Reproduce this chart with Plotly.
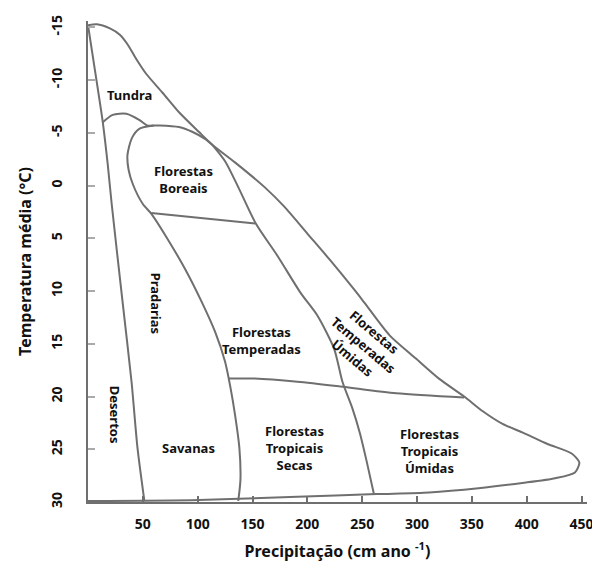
import plotly.graph_objects as go

# Boundary curves of the biomes (precipitation cm/yr, temperature °C)
outer_p = [0, 8, 20, 29, 36, 44, 53, 68, 83, 101, 113, 134, 161, 179, 200, 221, 243, 252, 275, 299, 320, 343, 360, 378, 396, 419, 441, 448, 444, 426, 396, 356, 311, 263, 191, 101, 0]
outer_t = [-15.2, -15.3, -14.9, -14.3, -13.4, -12.0, -10.6, -8.8, -6.95, -5.1, -3.9, -2.2, 0.15, 2.0, 4.55, 7.1, 9.9, 11.1, 14.2, 16.4, 18.3, 20.0, 21.4, 22.6, 23.4, 24.5, 25.4, 26.25, 27.2, 27.75, 28.2, 28.7, 29.1, 29.25, 29.5, 29.8, 29.9]

tundra_p = [13.5, 22.5, 35, 47, 54, 65, 83, 95, 107, 113]
tundra_t = [-6.0, -6.7, -6.8, -6.2, -5.7, -5.7, -5.55, -5.1, -4.4, -3.9]

desert_p = [0, 8, 13.5, 18, 21.6, 31.6, 39.7, 45.1, 51.4]
desert_t = [-15.2, -9.8, -6.0, -2.0, 1.75, 11.1, 18.6, 24.85, 29.9]

grass_p = [60, 47, 40, 36, 37, 41, 50, 58, 71, 89, 104, 116, 125, 130, 134, 138, 139, 137]
grass_t = [-5.7, -5.4, -4.5, -2.9, -1.5, -0.1, 1.75, 2.7, 4.8, 8.0, 11.1, 13.9, 16.7, 19.2, 21.7, 24.85, 27.9, 29.9]

boreal_p = [57.7, 152.4]
boreal_t = [2.6, 3.6]

temp_p = [113, 125, 137, 153, 173, 194, 209, 224.5, 232, 241, 248, 254, 260.6]
temp_t = [-3.9, -2.3, 0.15, 3.6, 6.7, 10.2, 12.3, 15.5, 18.6, 21.1, 23.5, 26.1, 29.2]

trop_p = [128, 152, 191, 230, 281, 343]
trop_t = [18.3, 18.3, 18.6, 19.05, 19.7, 20.1]

# Biome labels
label_text = ["Tundra", "Florestas<br>Boreais", "Pradarias", "Desertos", "Savanas",
              "Florestas<br>Temperadas", "Florestas<br>Tropicais<br>Secas",
              "Florestas<br>Tropicais<br>Úmidas", "Florestas<br>Temperadas<br>Úmidas"]
label_p = [38, 87.5, 62, 24.3, 92, 158, 188.5, 311, 251]
label_t = [-8.6, -0.6, 11.1, 21.7, 24.9, 14.7, 24.9, 25.2, 15.1]
label_angle = [0, 0, 90, 90, 0, 0, 0, 0, 40]

x_ticks = [50, 100, 150, 200, 250, 300, 350, 400, 450]
y_ticks = [-15, -10, -5, 0, 5, 10, 15, 20, 25, 30]

LINE = "#6f6f6f"
TXT = "#111111"
FONT = "Noto Sans"


def bold(s):
    return "<br>".join("<b>" + part + "</b>" for part in s.split("<br>"))


fig = go.Figure()
curves = [
    (outer_p, outer_t, "spline"),
    (tundra_p, tundra_t, "spline"),
    (desert_p, desert_t, "spline"),
    (grass_p, grass_t, "spline"),
    (boreal_p, boreal_t, "linear"),
    (temp_p, temp_t, "spline"),
    (trop_p, trop_t, "spline"),
]
for xs, ys, shp in curves:
    fig.add_trace(go.Scatter(x=xs, y=ys, mode="lines",
                             line=dict(color=LINE, width=2, shape=shp, smoothing=0.7),
                             hoverinfo="skip", showlegend=False))

for txt, px, pt, ang in zip(label_text, label_p, label_t, label_angle):
    fig.add_annotation(x=px, y=pt, text=bold(txt), showarrow=False, textangle=ang,
                       font=dict(family=FONT, size=13, color=TXT),
                       align="center")

fig.update_xaxes(range=[0, 455], tickvals=x_ticks, ticktext=[bold(str(v)) for v in x_ticks],
                 showline=True, linecolor=LINE, linewidth=2, ticks="inside",
                 ticklen=6, tickcolor=LINE, tickwidth=1.5, showgrid=False, zeroline=False,
                 tickfont=dict(family=FONT, size=14, color=TXT),
                 ticklabelstandoff=8, ticklabeloverflow="allow",
                 title=dict(text="<b>Precipitação (cm ano <sup>-1</sup>)</b>",
                            font=dict(family=FONT, size=16, color=TXT),
                            standoff=14))
fig.update_yaxes(range=[30, -15.6], tickvals=y_ticks, ticktext=[bold(str(v)) for v in y_ticks],
                 showline=True, linecolor=LINE, linewidth=2, ticks="inside",
                 ticklen=7, tickcolor="#aaaaaa", tickwidth=1.5, showgrid=False, zeroline=False,
                 tickangle=-90,
                 tickfont=dict(family=FONT, size=14, color=TXT),
                 ticklabelstandoff=18, ticklabeloverflow="allow",
                 title=dict(text="<b>Temperatura média (°C)</b>",
                            font=dict(family=FONT, size=16, color=TXT),
                            standoff=12))

# page has an 8px body margin, so the figure is 592x560 and offset accordingly
fig.update_layout(width=592, height=560, margin=dict(l=80, r=7, t=7, b=66),
                  plot_bgcolor="white", paper_bgcolor="white")
fig.write_html("out.html")
